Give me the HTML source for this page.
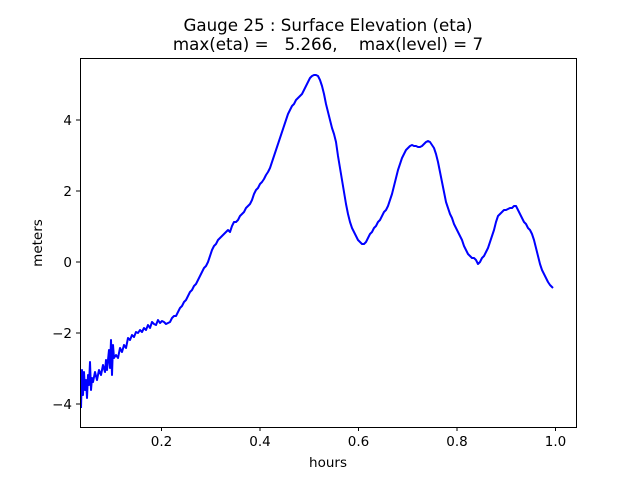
<!DOCTYPE html>
<html><head><style>
body{margin:0;background:#fff;}
svg text{font-family:"DejaVu Sans","Liberation Sans",sans-serif;font-size:13.5px;fill:#000;}
</style></head><body>
<svg width="640" height="480" xmlns="http://www.w3.org/2000/svg">
<rect width="640" height="480" fill="#fff"/>
<polyline fill="none" stroke="#0000ff" stroke-width="2" stroke-linejoin="round" points="81,408 82,370 83,395 84,372 85,390 86,380 87,398 88,375 89,385 90,362 91,390 92,378 93,382 95,372 97,380 99,370 101,375 103,365 105,372 106,360 107,370 109,350 110,368 111,340 112,375 113,345 114,358 116,355 118,358 120,348 122,352 124,345 126,348 128,338 130,340 132,335 134,337 136,332 138,333 140,330 142,332 144,328 146,330 148,325 150,328 152,322 154,324 156,325 158,320 160,323 162,321 164,322 166,324 168,323 170,322 172,318 174,316 176,316 178,312 180,308 182,306 184,302 186,300 188,296 190,292 192,290 194,286 196,284 198,280 200,276 202,272 204,268 206,266 208,262 210,256 212,250 214,246 216,244 218,240 220,238 222,236 224,234 226,232 228,230 230,232 232,226 234,222 236,222 238,220 240,216 242,214 244,212 246,208 248,206 250,204 252,200 254,194 256,190 258,188 260,184 262,182 264,179 266,175 268,172 270,168 272,162 274,156 276,150 278,144 280,138 282,132 284,126 286,120 288,114 290,110 292,106 294,104 296,100 298,98 300,96 302,94 304,90 306,86 308,82 310,78 312,76 314,75 316,75 318,76 320,80 322,86 324,94 326,104 328,112 330,120 332,128 334,134 336,142 338,156 340,168 342,180 344,192 346,204 348,214 350,222 352,228 354,232 356,236 358,240 360,242 362,244 364,244 366,242 368,238 370,234 372,232 374,228 376,226 378,222 380,220 382,216 384,212 386,210 388,206 390,200 392,194 394,186 396,178 398,170 400,164 402,158 404,154 406,150 408,148 410,146 412,145 414,146 416,146 418,147 420,147 422,146 424,144 426,142 428,141 430,142 432,145 434,148 436,154 438,162 440,172 442,182 444,192 446,202 448,208 450,214 452,218 454,224 456,228 458,232 460,236 462,240 464,246 466,250 468,254 470,256 472,258 474,258 476,260 478,264 480,262 482,258 484,256 486,252 488,248 490,242 492,236 494,230 496,222 498,216 500,214 502,212 504,210 506,210 508,209 510,208 512,208 514,206 516,206 518,210 520,214 522,218 524,222 526,224 528,228 530,230 532,234 534,240 536,248 538,256 540,264 542,270 544,274 546,278 548,282 550,285 553,288"/>
<rect x="80.5" y="58.5" width="496" height="369" fill="none" stroke="#000" stroke-width="1"/>
<g stroke="#000" stroke-width="1">
<line x1="161.5" y1="427" x2="161.5" y2="431"/><line x1="260" y1="427" x2="260" y2="431"/><line x1="358.5" y1="427" x2="358.5" y2="431"/><line x1="457" y1="427" x2="457" y2="431"/><line x1="555.5" y1="427" x2="555.5" y2="431"/>
<line x1="76" y1="120" x2="80" y2="120"/><line x1="76" y1="191" x2="80" y2="191"/><line x1="76" y1="262" x2="80" y2="262"/><line x1="76" y1="333" x2="80" y2="333"/><line x1="76" y1="404" x2="80" y2="404"/>
</g>
<g text-anchor="middle">
<text x="161.5" y="446">0.2</text><text x="260" y="446">0.4</text><text x="358.5" y="446">0.6</text><text x="457" y="446">0.8</text><text x="555.5" y="446">1.0</text>
<text x="328" y="467">hours</text>
<text x="328" y="31" style="font-size:16.7px">Gauge 25 : Surface Elevation (eta)</text>
<text x="328" y="50" style="font-size:16.7px" xml:space="preserve">max(eta) =   5.266,    max(level) = 7</text>
</g>
<g text-anchor="end">
<text x="72" y="125">4</text><text x="72" y="196">2</text><text x="72" y="267">0</text><text x="72" y="338">−2</text><text x="72" y="409">−4</text>
</g>
<text transform="translate(42,243) rotate(-90)" text-anchor="middle">meters</text>
</svg>
</body></html>
